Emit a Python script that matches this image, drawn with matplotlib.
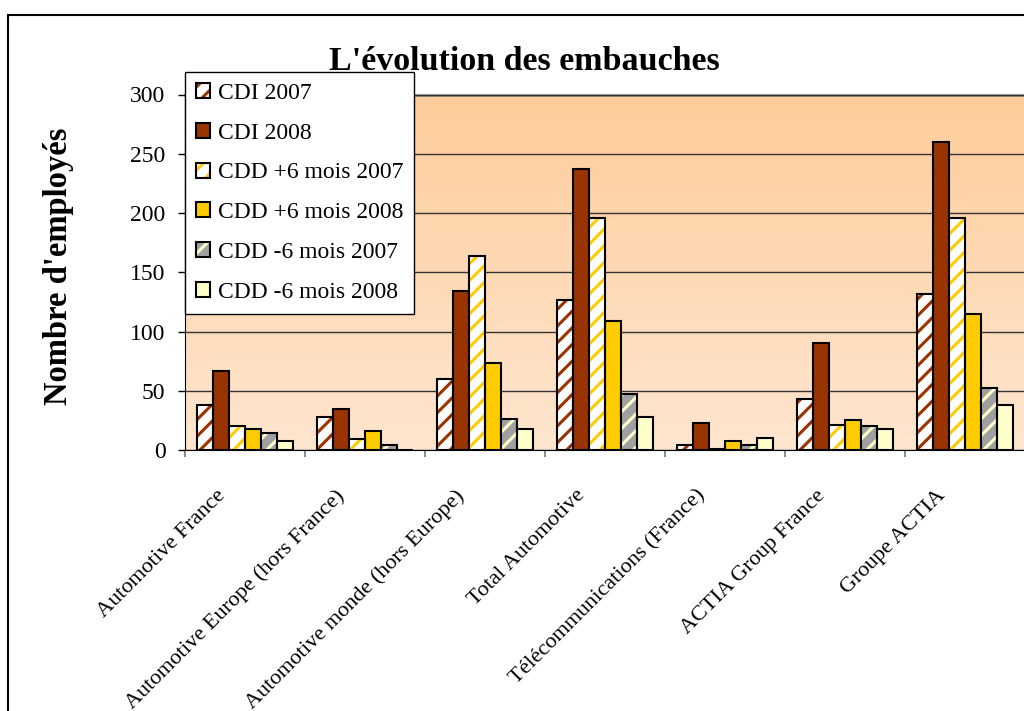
import matplotlib

matplotlib.use("Agg")

import matplotlib.pyplot as plt
import numpy as np
from matplotlib.colors import LinearSegmentedColormap
from matplotlib.lines import Line2D
from matplotlib.legend_handler import HandlerTuple
from matplotlib.patches import Patch
from matplotlib.transforms import offset_copy


categories = [
    "Automotive France",
    "Automotive Europe (hors France)",
    "Automotive monde (hors Europe)",
    "Total Automotive",
    "Télécommunications (France)",
    "ACTIA Group France",
    "Groupe ACTIA",
]
series_names = [
    "CDI 2007",
    "CDI 2008",
    "CDD +6 mois 2007",
    "CDD +6 mois 2008",
    "CDD -6 mois 2007",
    "CDD -6 mois 2008",
]
cdi_2007 = [38, 28, 60, 127, 4, 43, 132]
cdi_2008 = [67, 35, 134, 237, 23, 90, 260]
cdd_plus_2007 = [20, 9, 164, 196, 1, 21, 196]
cdd_plus_2008 = [18, 16, 73, 109, 8, 25, 115]
cdd_minus_2007 = [14, 4, 26, 47, 4, 20, 52]
cdd_minus_2008 = [8, 0, 18, 28, 10, 18, 38]
y_ticks = [0, 50, 100, 150, 200, 250, 300]

series_values = [cdi_2007, cdi_2008, cdd_plus_2007, cdd_plus_2008, cdd_minus_2007, cdd_minus_2008]

BROWN = "#993300"
GOLD = "#FFCC00"
PALE = "#FFFFCC"
GREY = "#A0A0A0"
# (face colour, hatch colour or None)
styles = [
    ("white", BROWN),
    (BROWN, None),
    ("white", GOLD),
    (GOLD, None),
    (GREY, PALE),
    (PALE, None),
]

plt.rcParams["font.family"] = ["Liberation Serif", "DejaVu Serif"]
plt.rcParams["hatch.linewidth"] = 2.2

W, H = 1024, 711
fig = plt.figure(figsize=(W / 100, H / 100), dpi=100)
ax = fig.add_axes([185 / W, 1 - 450 / H, 840 / W, 355.5 / H])

# gradient background of the plot area
grad = LinearSegmentedColormap.from_list("bg", ["#FFE6CF", "#FECC9A"])
ax.imshow(np.linspace(0, 1, 256).reshape(-1, 1), cmap=grad, aspect="auto",
          extent=(0, 1, 0, 1), transform=ax.transAxes, origin="lower", zorder=0)

x = np.arange(len(categories))
width = 1 / 7.5
for j, (vals, (fc, hc)) in enumerate(zip(series_values, styles)):
    pos = x + (j - 2.5) * width
    if hc is not None:
        ax.bar(pos, vals, width, color=fc, edgecolor=hc, hatch="//", linewidth=0, zorder=3)
        ax.bar(pos, vals, width, facecolor="none", edgecolor="black", linewidth=1.5, zorder=4)
    else:
        ax.bar(pos, vals, width, color=fc, edgecolor="black", linewidth=1.5, zorder=3)

ax.set_xlim(-0.5, len(categories) - 0.5)
ax.set_ylim(0, 300)
ax.set_yticks(y_ticks)
ax.set_yticklabels([str(v) for v in y_ticks], fontsize=17)
ax.set_xticks(np.arange(len(categories) + 1) - 0.5)
ax.set_xticklabels([])
ax.tick_params(axis="y", length=5, width=1, pad=9, color="black")
ax.tick_params(axis="x", length=5, width=1.2, color="#777777")
ax.yaxis.grid(True, color="#333333", linewidth=1)
ax.set_axisbelow(False)
for line in ax.get_ygridlines():
    line.set_zorder(1)

for side in ["top", "right"]:
    ax.spines[side].set_visible(False)
ax.spines["left"].set_color("black")
ax.spines["bottom"].set_color("black")
ax.spines["bottom"].set_zorder(5)
ax.axhline(300, color="#8C8C8C", linewidth=2, zorder=2, clip_on=False)

# rotated category labels
for i, name in enumerate(categories):
    tr = offset_copy(ax.transData, fig=fig, x=-16, y=-36, units="dots")
    ax.text(i, 0, name, transform=tr, rotation=45, ha="right", va="top",
            fontsize=16, clip_on=False)

# title (below the legend) and y label
ax.text(524 / W, 1 - 62 / H, "L'évolution des embauches", transform=fig.transFigure,
        ha="center", va="center", fontsize=24.5, fontweight="bold", zorder=1, clip_on=False)
fig.text(59 / W, 1 - 266 / H, "Nombre d'employés", rotation=90, ha="center",
         va="center", fontsize=23.5, fontweight="bold")

handles = []
for fc, hc in styles:
    if hc is not None:
        handles.append((Patch(facecolor=fc, edgecolor=hc, hatch="//", linewidth=0),
                        Patch(facecolor="none", edgecolor="black", linewidth=1.5)))
    else:
        handles.append(Patch(facecolor=fc, edgecolor="black", linewidth=1.5))

leg = ax.legend(handles, series_names, loc="upper left",
                bbox_to_anchor=(185 / W, 1 - 72 / H), bbox_transform=fig.transFigure,
                borderaxespad=0, fontsize=17, handlelength=0.6, handleheight=0.6,
                handletextpad=0.35, labelspacing=0.8, borderpad=0.45,
                fancybox=False, framealpha=1, edgecolor="black",
                handler_map={tuple: HandlerTuple(ndivide=1, pad=0)})
leg.get_frame().set_linewidth(1)
leg.set_zorder(10)

# outer chart frame
fig.add_artist(Line2D([8 / W, 8 / W], [0, 1 - 15 / H], color="black", linewidth=1.5))
fig.add_artist(Line2D([8 / W, 1], [1 - 15 / H, 1 - 15 / H], color="black", linewidth=1.5))

fig.savefig("out.png", dpi=100)
